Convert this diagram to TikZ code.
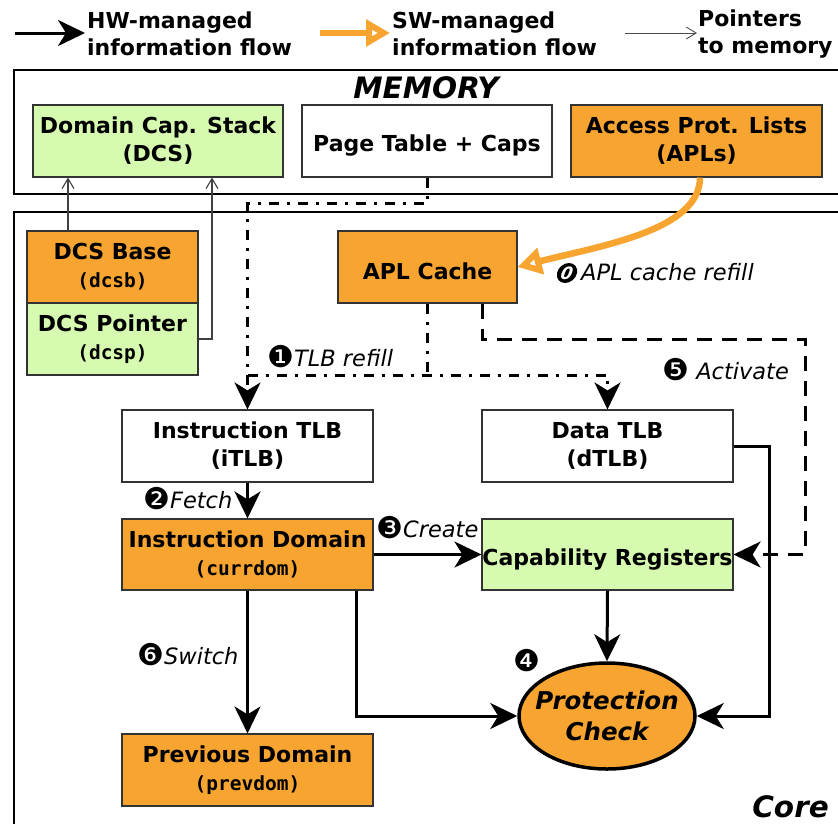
\documentclass[tikz,border=0pt]{standalone}
\usepackage{fontspec}
\setmainfont{DejaVu Sans}[BoldFont={DejaVu Sans Bold},ItalicFont={DejaVu Sans Oblique},BoldItalicFont={DejaVu Sans Bold Oblique}]
\setmonofont{DejaVu Sans Mono}[BoldFont={DejaVu Sans Mono Bold}]
\newfontfamily\dingfont{DejaVu Sans}
\usetikzlibrary{arrows.meta,shapes.geometric}

\definecolor{aplorange}{RGB}{247,164,48}
\definecolor{capgreen}{RGB}{213,250,176}

\newcommand\boxfont{\fontsize{22}{28}\selectfont\bfseries}
\newcommand\regname[1]{{\ttfamily\bfseries\fontsize{19.5}{28}\selectfont #1}}
\newcommand\dg[1]{{\upshape\dingfont\fontsize{30}{26}\selectfont\raisebox{-1pt}{#1}}}

\tikzset{
  box/.style={draw=black!80, line width=1.1pt, minimum width=251pt, minimum height=72pt,
    inner sep=0pt, align=center, font=\boxfont, execute at begin node={\rule{0pt}{26pt}}},
  hwtip/.style={-{Stealth[length=27pt,width=26pt,inset=8pt]}},
  hw/.style={line width=3pt, hwtip},
  sw/.style={draw=aplorange, line width=6.5pt, -{Triangle[length=24pt,width=26pt,fill=white]}},
  ptr/.style={draw=black!75, line width=1.1pt, -{Straight Barb[length=10pt,width=12pt]}},
  tlbflow/.style={line width=3pt, dash pattern=on 10pt off 8pt on 3pt off 8pt},
  actflow/.style={line width=3pt, dash pattern=on 15pt off 10pt},
  lbl/.style={font=\fontsize{22.5}{26}\selectfont\itshape, inner sep=0pt, anchor=west},
  legend/.style={font=\fontsize{22}{27}\selectfont\bfseries, inner sep=0pt, anchor=west, align=left},
  frame/.style={draw=black, line width=1.2pt},
  stepmark/.style={circle, fill=black, inner sep=0pt, minimum size=20pt, text=white,
    font=\fontsize{17}{17}\selectfont\bfseries\itshape},
}

\begin{document}
\begin{tikzpicture}[x=1pt,y=-1pt]
\useasboundingbox (0,0) rectangle (838,823);

% legend
\coordinate (hwa) at (15,33);  \coordinate (hwb) at (85,33);
\coordinate (swa) at (320,33); \coordinate (swb) at (390,33);
\coordinate (pta) at (625,33); \coordinate (ptb) at (697,33);
\draw[hw] (hwa) -- (hwb);
\draw[sw] (swa) -- (swb);
\draw[ptr, draw=black!70, line width=0.9pt] (pta) -- (ptb);
\node[legend] (hwtxt) at (87,34) {HW-managed\\information flow};
\node[legend] (swtxt) at (392,34) {SW-managed\\information flow};
\node[legend] (pttxt) at (698,34) {Pointers\\to memory};

% memory and core frames
\draw[frame] (14,70) rectangle (845,194);
\draw[frame] (14,212) rectangle (845,830);
\node[font=\fontsize{29.5}{30}\selectfont\bfseries\itshape] (memlbl) at (426,88) {MEMORY};
\node[font=\fontsize{29.5}{30}\selectfont\bfseries\itshape, anchor=base east, inner sep=0pt] (corelbl) at (829,817) {Core};

% memory structures
\node[box, fill=capgreen, minimum width=250pt] (dcs) at (158,141) {Domain Cap. Stack\\(DCS)};
\node[box, fill=white, minimum width=250pt] (pt) at (427,141) {Page Table + Caps};
\node[box, fill=aplorange] (apls) at (696.5,141) {Access Prot. Lists\\(APLs)};

% core registers and caches
\node[box, fill=aplorange, minimum width=171pt] (dcsb) at (112.5,267) {DCS Base\\\regname{(dcsb)}};
\node[box, fill=capgreen, minimum width=171pt] (dcsp) at (112.5,339) {DCS Pointer\\\regname{(dcsp)}};
\node[box, fill=aplorange, minimum width=179pt] (aplc) at (427.5,267) {APL Cache};
\node[box, fill=white] (itlb) at (247.5,446) {Instruction TLB\\(iTLB)};
\node[box, fill=white] (dtlb) at (607.5,446) {Data TLB\\(dTLB)};
\node[box, fill=aplorange, minimum height=71pt] (idom) at (247.5,554.5) {Instruction Domain\\\regname{(currdom)}};
\node[box, fill=capgreen, minimum height=71pt] (creg) at (607.5,554.5) {Capability Registers};
\node[box, fill=aplorange] (pdom) at (247.5,770) {Previous Domain\\\regname{(prevdom)}};
\node[ellipse, draw=black, line width=3.5pt, fill=aplorange, minimum width=176pt, minimum height=106pt,
  inner sep=0pt, align=center, font=\fontsize{24.5}{31}\selectfont\bfseries\itshape] (pc) at (607,716)
  {\makebox[0pt]{Protection}\\\makebox[0pt]{Check}};

% pointers from the DCS registers into memory
\draw[ptr] ([xshift=-44.5pt]dcsb.north) -- ([xshift=-90pt]dcs.south);
\draw[ptr] (dcsp.east) -| ([xshift=54pt]dcs.south);

% SW-managed APL refill
\draw[sw] ([xshift=3.5pt]apls.south) .. controls +(0,53) and +(82,-21) .. (aplc.east);

% TLB refill paths
\coordinate (tlbsplit) at (247.5,375);
\draw[tlbflow, hwtip] (pt.south) -- ++(0,26) -| (itlb.north);
\draw[tlbflow, hwtip] (tlbsplit) -| (dtlb.north);
\draw[tlbflow] (aplc.south) -- (aplc.south |- tlbsplit);

% activation of capabilities
\coordinate (actcorner) at (805,339);
\draw[actflow, hwtip] ([xshift=-35pt]aplc.south east) |- (actcorner) |- (creg.east);

% HW-managed flows
\coordinate (dtlbx) at (769,0);
\draw[hw] (itlb.south) -- (idom.north);
\draw[hw] (idom.east) -- (creg.west);
\draw[hw] (idom.south) -- (pdom.north);
\draw[hw] ([xshift=-17pt]idom.south east) |- (pc.west);
\draw[hw] (creg.south) -- (pc.north);
\draw[hw] (dtlb.east) -- (dtlb.east -| dtlbx) |- (pc.east);

% step labels
\node[stepmark, xslant=0.2] (n0) at (567,273) {0};
\node[lbl] (l0) at (581,272) {APL cache refill};
\node[lbl] (l1) at (267,357) {\dg{❶}TLB refill};
\node[lbl] (l2) at (143,499) {\dg{❷}Fetch};
\node[lbl] (l3) at (376,528) {\dg{❸}Create};
\node[inner sep=0pt] (l4) at (527,661) {\dg{❹}};
\node[lbl] (l5) at (662,370) {\dg{❺} Activate};
\node[lbl] (l6) at (137,655) {\dg{❻}Switch};
\end{tikzpicture}
\end{document}
